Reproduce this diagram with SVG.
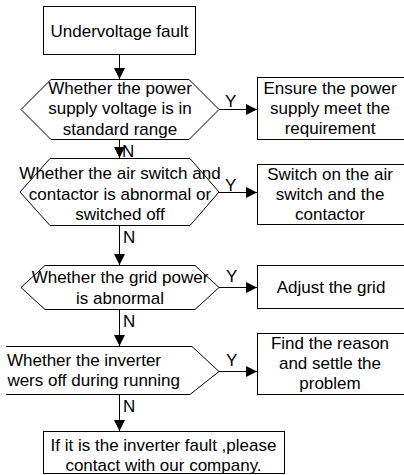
<svg xmlns="http://www.w3.org/2000/svg" width="404" height="475" viewBox="0 0 404 475">
<style>
.n{fill:#fff;stroke:#000;stroke-width:1}
.t{font-family:"Liberation Sans",Arial,sans-serif;font-size:17px;fill:#000;text-anchor:middle}
.l{font-family:"Liberation Sans",Arial,sans-serif;font-size:17px;fill:#000}
.c{stroke:#000;stroke-width:1;fill:none}
</style>
<defs>
<marker id="ah" viewBox="0 0 10 10" refX="10" refY="5" markerWidth="11" markerHeight="11" markerUnits="userSpaceOnUse" orient="auto">
<path d="M0,0 L10,5 L0,10 z" fill="#000"/>
</marker>
</defs>
<rect width="404" height="475" fill="#fff"/>
<g id="connectors">
<line class="c" x1="119.5" y1="55" x2="119.5" y2="79" marker-end="url(#ah)"/>
<line class="c" x1="119.5" y1="139" x2="119.5" y2="158" marker-end="url(#ah)"/>
<line class="c" x1="119.5" y1="225" x2="119.5" y2="265" marker-end="url(#ah)"/>
<line class="c" x1="119.5" y1="309" x2="119.5" y2="346" marker-end="url(#ah)"/>
<line class="c" x1="119.5" y1="394" x2="119.5" y2="431" marker-end="url(#ah)"/>
<line class="c" x1="219" y1="109.5" x2="257" y2="109.5" marker-end="url(#ah)"/>
<line class="c" x1="219" y1="192.5" x2="257" y2="192.5" marker-end="url(#ah)"/>
<line class="c" x1="219" y1="287.5" x2="257" y2="287.5" marker-end="url(#ah)"/>
<line class="c" x1="219" y1="371.5" x2="257" y2="371.5" marker-end="url(#ah)"/>
<text class="l" x="225" y="107">Y</text>
<text class="l" x="225" y="191">Y</text>
<text class="l" x="226" y="282">Y</text>
<text class="l" x="226" y="366">Y</text>
<text class="l" x="122" y="157">N</text>
<text class="l" x="123" y="243">N</text>
<text class="l" x="123" y="327">N</text>
<text class="l" x="123" y="412">N</text>
</g>
<g id="start">
<rect class="n" x="43.5" y="6.5" width="152" height="48"/>
<text class="t" x="119.5" y="37">Undervoltage fault</text>
</g>
<g id="q1">
<polygon class="n" points="51,79.5 189,79.5 219,109.5 189,139.5 51,139.5 21,109.5"/>
<text class="t" x="120" y="94">Whether the power</text>
<text class="t" x="120" y="114">supply voltage is in</text>
<text class="t" x="120" y="134.5">standard range</text>
</g>
<g id="a1">
<rect class="n" x="257.5" y="77.5" width="160" height="62"/>
<text class="t" x="330" y="94">Ensure the power</text>
<text class="t" x="330" y="114">supply meet the</text>
<text class="t" x="330" y="134">requirement</text>
</g>
<g id="q2">
<polygon class="n" points="50,158.5 190,158.5 219,192 190,225.5 50,225.5 20,192"/>
<text class="t" x="120" y="179">Whether the air switch and</text>
<text class="t" x="120" y="199.5">contactor is abnormal or</text>
<text class="t" x="120" y="220">switched off</text>
</g>
<g id="a2">
<rect class="n" x="257.5" y="164.5" width="160" height="60"/>
<text class="t" x="330" y="180">Switch on the air</text>
<text class="t" x="330" y="200">switch and the</text>
<text class="t" x="330" y="220">contactor</text>
</g>
<g id="q3">
<polygon class="n" points="45,265.5 195,265.5 219,287.5 195,309.5 45,309.5 21,287.5"/>
<text class="t" x="120" y="283">Whether the grid power</text>
<text class="t" x="120" y="304">is abnormal</text>
</g>
<g id="a3">
<rect class="n" x="257.5" y="265.5" width="160" height="43"/>
<text class="t" x="331" y="293">Adjust the grid</text>
</g>
<g id="q4">
<path class="n" d="M6,346.5 H192 L219,371.5 L190,394.5 H6"/>
<text class="t" x="84" y="365.5">Whether the inverter</text>
<text class="l" x="180" y="385.5" text-anchor="end">wers off during running</text>
</g>
<g id="a4">
<rect class="n" x="257.5" y="333.5" width="160" height="61"/>
<text class="t" x="330" y="349">Find the reason</text>
<text class="t" x="330" y="369">and settle the</text>
<text class="t" x="330" y="389">problem</text>
</g>
<g id="end">
<rect class="n" x="43.5" y="431.5" width="241" height="42"/>
<text class="t" x="163.5" y="451">If it is the inverter fault ,please</text>
<text class="t" x="163.5" y="471">contact with our company.</text>
</g>
</svg>
